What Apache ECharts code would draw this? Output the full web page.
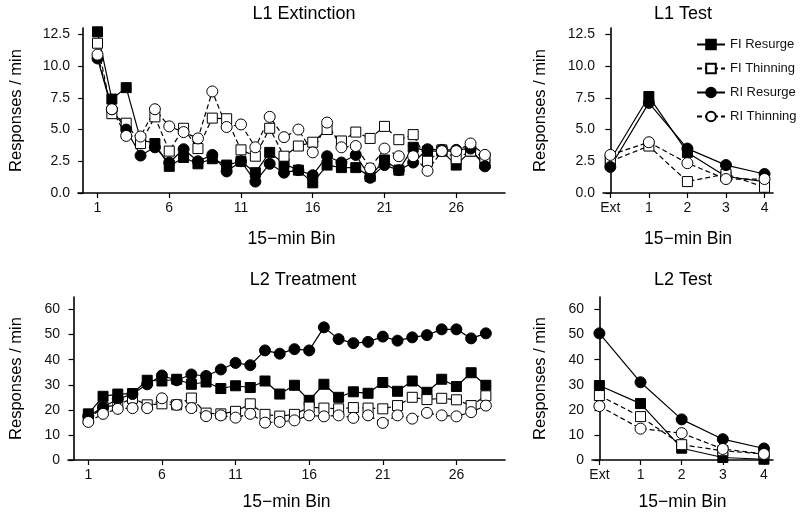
<!DOCTYPE html>
<html><head><meta charset="utf-8">
<script src="https://cdn.jsdelivr.net/npm/echarts@6/dist/echarts.min.js"></script>
<style>html,body{margin:0;padding:0;background:#fff}#c{width:800px;height:512px}</style>
</head><body><div id="c"></div>
<script>
// ---- data ----
const extBins = [1,2,3,4,5,6,7,8,9,10,11,12,13,14,15,16,17,18,19,20,21,22,23,24,25,26,27,28];
const extTickLabels = [1,6,11,16,21,26];
const testCats = ['Ext','1','2','3','4'];
const l1YTicks = [0,2.5,5,7.5,10,12.5];
const l2YTicks = [0,10,20,30,40,50,60];
const seriesNames = ['FI Resurge','FI Thinning','RI Resurge','RI Thinning'];

const l1ExtFIResurge  = [12.7,7.4,8.3,4.2,3.9,2.1,2.8,2.3,2.7,2.2,2.5,1.6,3.2,2.3,1.8,0.8,2.2,2.0,2.0,1.3,2.6,1.8,3.6,3.3,3.3,2.2,3.3,2.3];
const l1ExtFIThinning = [11.8,6.25,5.5,3.9,6.0,3.3,5.1,3.5,5.9,5.85,3.4,2.9,5.1,2.9,3.7,4.0,5.0,4.1,4.8,4.3,5.25,4.2,4.6,2.5,3.4,2.7,3.3,2.8];
const l1ExtRIResurge  = [10.6,6.6,5.0,2.95,3.6,2.4,3.45,2.5,3.0,1.7,2.5,0.9,2.3,1.6,1.8,1.4,2.9,2.4,3.0,1.2,2.2,1.8,2.4,3.45,3.4,3.4,3.5,2.1];
const l1ExtRIThinning = [10.9,6.6,4.5,4.45,6.6,5.25,4.8,4.3,8.0,5.2,5.4,3.6,6.0,4.4,5.0,3.2,5.55,3.6,3.7,1.95,3.5,2.9,2.9,1.75,3.3,3.3,3.9,3.0];

const l1TestFIResurge  = [2.6,7.6,3.2,1.3,0.9];
const l1TestFIThinning = [2.5,3.7,0.9,1.5,0.45];
const l1TestRIResurge  = [2.05,7.1,3.5,2.2,1.5];
const l1TestRIThinning = [3.0,4.0,2.35,1.1,1.1];

const l2TrtFIResurge  = [18.4,25.4,26.3,26.5,31.8,31.5,32.2,30.2,31.1,28.5,29.6,28.9,31.5,26.3,29.8,23.8,30.2,25.0,27.2,26.6,30.9,27.4,31.5,27.0,32.2,29.3,34.8,29.8];
const l2TrtFIThinning = [16.5,21,22,24.6,22,22.4,22,24.7,18.7,18.4,19.4,22.4,18.2,17.5,18.2,21.1,20.7,20.4,20.9,20.7,20.4,21.7,25.0,24.1,24.6,24.0,21.7,25.6];
const l2TrtRIResurge  = [17.5,21,24.3,26.3,30.2,33.7,31.8,34.1,33.5,36.1,38.7,37.8,43.7,42.4,44.2,43.7,52.9,48.2,46.6,47.1,49.2,47.6,48.9,49.8,52.1,52.1,48.5,50.5];
const l2TrtRIThinning = [15.2,18.4,20.4,20.7,20.7,24.6,22,20.7,17.5,17.8,16.9,18.4,14.9,15.2,15.8,17.8,17.4,17.8,16.8,17.8,14.8,17.8,16.5,18.8,17.8,17.4,19.1,21.7];

const l2TestFIResurge  = [29.7,22.5,4.7,1.0,0.3];
const l2TestFIThinning = [25.7,17.3,6.1,3.7,2.4];
const l2TestRIResurge  = [50.5,31.0,16.2,8.3,4.6];
const l2TestRIThinning = [21.5,12.5,10.7,4.4,2.4];

// ---- chart ----
const FONT = 'Liberation Sans';
const chart = echarts.init(document.getElementById('c'), null, {renderer:'canvas'});

const panels = [
  {title:'L1 Extinction', tx:299, ty:0, grid:{left:68, top:28, width:437, height:165},
   xmin:-0.36, xmax:29.4, xTicks:extTickLabels, xs:extBins, cat:false,
   ymax:13, yTicks:l1YTicks, yfmt:v=>v.toFixed(1), ygap:53, xgap:37,
   data:[l1ExtFIResurge,l1ExtFIThinning,l1ExtRIResurge,l1ExtRIThinning]},
  {title:'L1 Test', tx:678, ty:0, grid:{left:603, top:28, width:170, height:165},
   xmin:-0.19, xmax:4.22, xTicks:[0,1,2,3,4], xs:[0,1,2,3,4], cat:true,
   ymax:13, yTicks:l1YTicks, yfmt:v=>v.toFixed(1), ygap:54, xgap:37,
   data:[l1TestFIResurge,l1TestFIThinning,l1TestRIResurge,l1TestRIThinning]},
  {title:'L2 Treatment', tx:298, ty:266, grid:{left:57, top:297, width:448, height:165},
   xmin:-0.38, xmax:29.3, xTicks:extTickLabels, xs:extBins, cat:false,
   ymax:65, yTicks:l2YTicks, yfmt:v=>String(v), ygap:43, xgap:33,
   data:[l2TrtFIResurge,l2TrtFIThinning,l2TrtRIResurge,l2TrtRIThinning]},
  {title:'L2 Test', tx:678, ty:266, grid:{left:592, top:297, width:181, height:164},
   xmin:-0.18, xmax:4.22, xTicks:[0,1,2,3,4], xs:[0,1,2,3,4], cat:true,
   ymax:65, yTicks:l2YTicks, yfmt:v=>String(v), ygap:43, xgap:33,
   data:[l2TestFIResurge,l2TestFIThinning,l2TestRIResurge,l2TestRIThinning]}
];

const styles = [
  {symbol:'rect', size:10, fill:'#000', dash:'solid'},
  {symbol:'rect', size:10, fill:'#fff', dash:[5,3]},
  {symbol:'circle', size:11, fill:'#000', dash:'solid'},
  {symbol:'circle', size:11, fill:'#fff', dash:[5,3]}
];

const axisLineStyle = {show:true, lineStyle:{color:'#000', width:1.6}};
const labelStyle = {color:'#111', fontFamily:FONT, fontSize:14};

const option = {
  animation:false,
  backgroundColor:'#fff',
  title: panels.map(p=>({text:p.title, left:p.tx, top:p.ty, textAlign:'center',
    textStyle:{fontFamily:FONT, fontSize:18, fontWeight:'normal', color:'#000'}})),
  legend:{orient:'vertical', left:691, top:33, itemWidth:28, itemHeight:12, itemGap:11,
    data:seriesNames, textStyle:{fontFamily:FONT, fontSize:13, color:'#111'}},
  grid: panels.map(p=>Object.assign({containLabel:false}, p.grid)),
  xAxis: panels.map((p,i)=>({type:'value', gridIndex:i, min:p.xmin, max:p.xmax,
    name:'15\u2212min Bin', nameLocation:'middle', nameGap:p.xgap,
    nameTextStyle:{fontFamily:FONT, fontSize:17.5, color:'#000'},
    splitLine:{show:false}, axisLine:axisLineStyle,
    axisTick:{show:true, length:5, customValues:p.xTicks, lineStyle:{color:'#000', width:1.2}},
    axisLabel:Object.assign({customValues:p.xTicks, margin:8,
      formatter:v=>p.cat ? testCats[Math.round(v)] : String(v)}, labelStyle)})),
  yAxis: panels.map((p,i)=>({type:'value', gridIndex:i, min:0, max:p.ymax,
    name:'Responses / min', nameLocation:'middle', nameGap:p.ygap,
    nameTextStyle:{fontFamily:FONT, fontSize:16.5, color:'#000'},
    splitLine:{show:false}, axisLine:axisLineStyle,
    axisTick:{show:true, length:5, customValues:p.yTicks, lineStyle:{color:'#000', width:1.2}},
    axisLabel:Object.assign({customValues:p.yTicks, margin:8, formatter:p.yfmt}, labelStyle)})),
  series: []
};

panels.forEach((p,i)=>{
  p.data.forEach((vals,k)=>{
    const s = styles[k];
    option.series.push({
      type:'line', name:seriesNames[k], xAxisIndex:i, yAxisIndex:i,
      data: vals.map((v,j)=>[p.xs[j], v]),
      symbol:s.symbol, symbolSize:s.size, showAllSymbol:true,
      lineStyle:{color:'#000', width:1.2, type:s.dash},
      itemStyle:{color:s.fill, borderColor:'#000', borderWidth:1},
      emphasis:{disabled:true}
    });
  });
});

chart.setOption(option);
</script></body></html>
